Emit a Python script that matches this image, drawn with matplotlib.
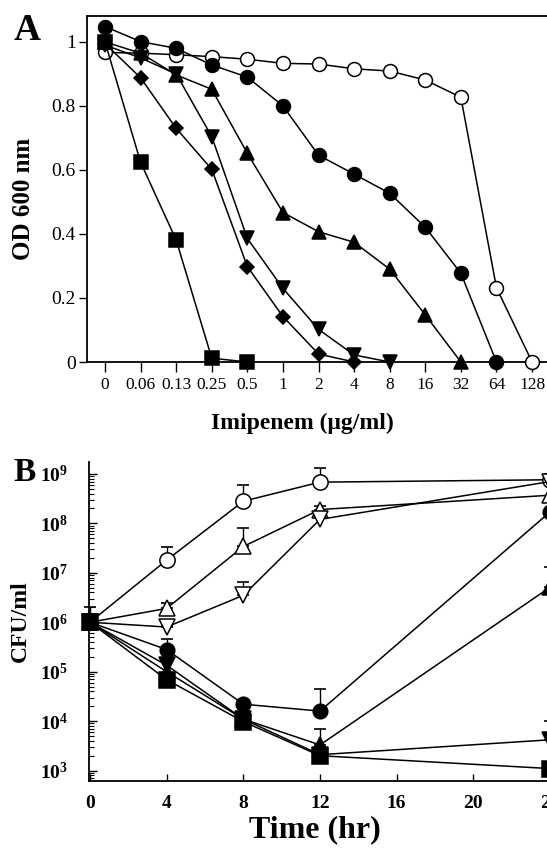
import numpy as np
import matplotlib
matplotlib.use('Agg')
import matplotlib.pyplot as plt
from matplotlib.ticker import LogLocator, FixedLocator, NullFormatter

plt.rcParams['font.family'] = ['Liberation Serif', 'DejaVu Serif']
plt.rcParams['mathtext.fontset'] = 'custom'
plt.rcParams['mathtext.rm'] = 'Liberation Serif'
plt.rcParams['mathtext.bf'] = 'Liberation Serif:bold'

# ---- panel A: OD600 vs imipenem concentration ----
conc_labels = ['0', '0.06', '0.13', '0.25', '0.5', '1', '2', '4', '8', '16', '32', '64', '128']
od_open_circle = [0.967, 0.965, 0.96, 0.954, 0.946, 0.933, 0.931, 0.916, 0.909, 0.881, 0.827, 0.232, 0.0]
od_circle = [1.048, 1.001, 0.98, 0.928, 0.89, 0.80, 0.646, 0.587, 0.527, 0.421, 0.277, 0.0]
od_up_tri = [1.0, 0.965, 0.897, 0.852, 0.652, 0.467, 0.407, 0.374, 0.29, 0.147, 0.0]
od_down_tri = [0.99, 0.95, 0.90, 0.704, 0.386, 0.23, 0.102, 0.022, 0.0]
od_diamond = [0.995, 0.888, 0.730, 0.602, 0.298, 0.142, 0.025, 0.0]
od_square = [1.0, 0.624, 0.381, 0.012, 0.0]

# ---- panel B: CFU/ml vs time ----
time_hr = [0, 4, 8, 12, 24]
cfu_open_circle = [1e6, 1.8e7, 2.8e8, 6.8e8, 7.6e8]
cfu_open_up = [1e6, 1.9e6, 3.4e7, 1.9e8, 3.7e8]
cfu_open_down = [1e6, 8e5, 3.5e6, 1.2e8, 7e8]
cfu_circle = [1e6, 2.8e5, 2.2e4, 1.6e4, 1.7e8]
cfu_up = [1e6, 1e5, 1.1e4, 3.3e3, 5.1e6]
cfu_down = [1e6, 1.35e5, 1.1e4, 2.1e3, 4.2e3]
cfu_square = [1e6, 6.9e4, 9.8e3, 2e3, 1.1e3]
# top of the upper-only error bars (nan = none drawn)
err_open_circle = [2e6, 3.3e7, 5.9e8, 1.3e9, 1.0e9]
err_open_up = [np.nan, 2.4e6, 8.1e7, 2.2e8, np.nan]
err_open_down = [np.nan, 9e5, 6.5e6, np.nan, np.nan]
err_circle = [np.nan, 4.5e5, np.nan, 4.4e4, np.nan]
err_up = [np.nan, np.nan, np.nan, 6.9e3, 1.3e7]
err_down = [np.nan, np.nan, np.nan, np.nan, 1.0e4]
err_square = [np.nan, np.nan, np.nan, np.nan, np.nan]

W, H = 547, 851
fig = plt.figure(figsize=(W / 100, H / 100), dpi=100)


def px_axes(left, top, right, bottom):
    # axes placed by pixel edges, measured from the top-left corner
    return fig.add_axes([left / W, 1 - bottom / H, (right - left) / W, (bottom - top) / H])


# panel A
axA = px_axes(87, 16, 547, 362)
xi = np.arange(len(conc_labels))
mk = dict(color='black', lw=1.1, clip_on=False, markeredgewidth=1.1, mec='black')
axA.plot(xi[:len(od_open_circle)], od_open_circle, marker='o', ms=10, mfc='white', zorder=3, **mk)
axA.plot(xi[:len(od_circle)], od_circle, marker='o', ms=10, mfc='black', zorder=4, **mk)
axA.plot(xi[:len(od_up_tri)], od_up_tri, marker='^', ms=10.5, mfc='black', zorder=4, **mk)
axA.plot(xi[:len(od_down_tri)], od_down_tri, marker='v', ms=10.5, mfc='black', zorder=4, **mk)
axA.plot(xi[:len(od_diamond)], od_diamond, marker='D', ms=7, mfc='black', zorder=4, **mk)
axA.plot(xi[:len(od_square)], od_square, marker='s', ms=10.5, mfc='black', zorder=5, **mk)

axA.set_xlim(-0.506, 12.42)
axA.set_ylim(0, 1.081)
axA.set_xticks(xi)
axA.set_xticklabels(conc_labels, fontsize=12.5)
axA.set_yticks([0, 0.2, 0.4, 0.6, 0.8, 1.0])
axA.set_yticklabels(['0', '0.2', '0.4', '0.6', '0.8', '1'], fontsize=14)
axA.tick_params(axis='x', direction='out', length=7, width=1, pad=4)
axA.tick_params(axis='y', direction='out', length=6, width=1, pad=2)
axA.spines['right'].set_visible(False)
for s in ['left', 'bottom', 'top']:
    axA.spines[s].set_linewidth(1.3)

fig.text(302 / W, 1 - 423 / H, 'Imipenem (\u03bcg/ml)', ha='center', va='center',
         fontsize=17, fontweight='bold')
fig.text(24 / W, 1 - 199 / H, 'OD 600 nm', ha='center', va='center', rotation=90,
         fontsize=18, fontweight='bold')
fig.text(14 / W, 1 - 30 / H, 'A', ha='left', va='center', fontsize=27, fontweight='bold')

# panel B
axB = px_axes(89, 462, 560, 781)
series = [
    (cfu_open_circle, err_open_circle, 'o', 'white', 11),
    (cfu_open_up, err_open_up, '^', 'white', 11),
    (cfu_open_down, err_open_down, 'v', 'white', 11),
    (cfu_circle, err_circle, 'o', 'black', 10.5),
    (cfu_up, err_up, '^', 'black', 11),
    (cfu_down, err_down, 'v', 'black', 11),
    (cfu_square, err_square, 's', 'black', 11),
]
t = np.array(time_hr)
for vals, err, m, fc, size in series:
    vals = np.array(vals)
    err = np.array(err)
    has = ~np.isnan(err)
    if has.any():
        axB.errorbar(t[has], vals[has], yerr=[np.zeros(has.sum()), err[has] - vals[has]],
                     fmt='none', ecolor='black', elinewidth=1, capsize=4.5, capthick=1.2,
                     clip_on=False, zorder=2)
    axB.plot(t, vals, color='black', lw=1.1, marker=m, ms=size, mfc=fc, mec='black',
             markeredgewidth=1.1, clip_on=False, zorder=3)

axB.set_yscale('log')
axB.set_xlim(-0.05, 24.52)
axB.set_ylim(10 ** 2.79, 10 ** 9.24)
axB.set_xticks([0, 4, 8, 12, 16, 20, 24])
axB.set_xticklabels(['0', '4', '8', '12', '16', '20', '24'], fontsize=14, fontweight='bold')
decades = [3, 4, 5, 6, 7, 8, 9]
axB.yaxis.set_major_locator(FixedLocator([10.0 ** d for d in decades]))
axB.set_yticklabels([r'$\mathbf{10^{%d}}$' % d for d in decades], fontsize=14)
axB.yaxis.set_minor_locator(LogLocator(base=10, subs=np.arange(2, 10)))
axB.yaxis.set_minor_formatter(NullFormatter())
axB.tick_params(axis='x', direction='in', length=5, width=1, pad=10)
axB.tick_params(axis='y', which='major', direction='in', length=6, width=1, pad=15)
axB.tick_params(axis='y', which='minor', direction='in', length=3.5, width=0.8)
axB.spines['right'].set_visible(False)
axB.spines['top'].set_visible(False)
for s in ['left', 'bottom']:
    axB.spines[s].set_linewidth(1.3)

fig.text(315 / W, 1 - 830 / H, 'Time (hr)', ha='center', va='center',
         fontsize=23, fontweight='bold')
fig.text(20 / W, 1 - 621 / H, 'CFU/ml', ha='center', va='center', rotation=90,
         fontsize=17, fontweight='bold')
fig.text(13 / W, 1 - 472 / H, 'B', ha='left', va='center', fontsize=24, fontweight='bold')

fig.savefig('out.png', dpi=100)
